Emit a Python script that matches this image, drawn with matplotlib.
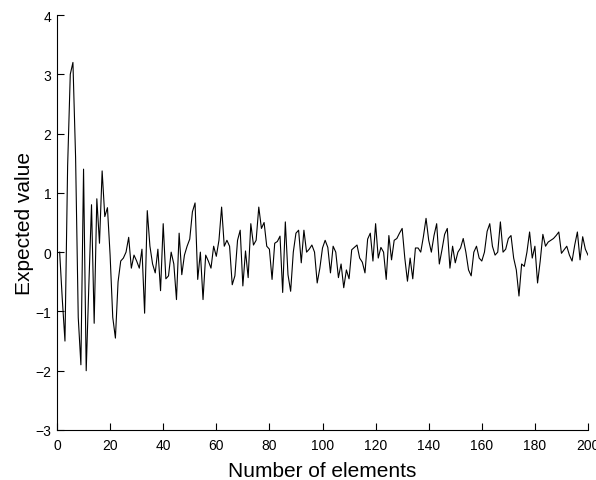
import matplotlib
matplotlib.use("Agg")
import matplotlib.pyplot as plt
import numpy as np

# values, one per element (x = 1..200)
values = [
    0.0, -0.8, -1.5, 1.45, 3.0, 3.2, 1.6, -1.1, -1.9, 1.4,
    -2.0, -0.55, 0.8, -1.2, 0.9, 0.15, 1.37, 0.6, 0.75, -0.05,
    -1.1, -1.45, -0.5, -0.15, -0.1, 0.0, 0.25, -0.27, -0.05, -0.15,
    -0.27, 0.05, -1.03, 0.7, 0.1, -0.2, -0.35, 0.05, -0.65, 0.48,
    -0.45, -0.4, 0.0, -0.2, -0.8, 0.32, -0.38, -0.05, 0.1, 0.22,
    0.68, 0.83, -0.46, 0.0, -0.8, -0.05, -0.15, -0.27, 0.1, -0.07,
    0.2, 0.76, 0.1, 0.2, 0.1, -0.55, -0.4, 0.2, 0.37, -0.57,
    0.02, -0.43, 0.48, 0.12, 0.2, 0.76, 0.4, 0.5, 0.1, 0.05,
    -0.46, 0.15, 0.18, 0.27, -0.68, 0.51, -0.38, -0.66, 0.0, 0.32,
    0.37, -0.18, 0.37, 0.0, 0.05, 0.12, 0.0, -0.52, -0.27, 0.07,
    0.2, 0.08, -0.35, 0.1, 0.0, -0.43, -0.2, -0.6, -0.3, -0.45,
    0.04, 0.08, 0.12, -0.1, -0.17, -0.35, 0.22, 0.32, -0.15, 0.48,
    -0.1, 0.08, 0.0, -0.46, 0.28, -0.13, 0.2, 0.23, 0.32, 0.4,
    -0.1, -0.49, -0.1, -0.45, 0.07, 0.07, 0.0, 0.26, 0.57, 0.2,
    0.0, 0.28, 0.48, -0.2, 0.04, 0.3, 0.4, -0.27, 0.1, -0.18,
    0.0, 0.07, 0.23, 0.0, -0.3, -0.4, 0.0, 0.1, -0.1, -0.15,
    0.0, 0.35, 0.48, 0.1, -0.05, 0.0, 0.51, 0.0, 0.05, 0.23,
    0.28, -0.1, -0.3, -0.74, -0.2, -0.24, 0.0, 0.34, -0.1, 0.1,
    -0.52, -0.15, 0.3, 0.1, 0.17, 0.2, 0.23, 0.28, 0.34, -0.02,
    0.04, 0.1, -0.05, -0.15, 0.12, 0.34, -0.13, 0.26, 0.05, -0.05,
]
elements = np.arange(1, len(values) + 1)
xticks = list(range(0, 201, 20))
yticks = list(range(-3, 5))

plt.rcParams['font.family'] = ['Liberation Sans', 'DejaVu Sans']

fig = plt.figure(figsize=(5.96, 4.81), dpi=100)
ax = fig.add_axes([57 / 596, 50 / 481, 531 / 596, 415 / 481])

ax.plot(elements, values, color='black', linewidth=0.8)

ax.set_xlim(0, 200)
ax.set_ylim(-3, 4)
ax.set_xticks(xticks)
ax.set_yticks(yticks)
ax.tick_params(direction='in', length=5, width=0.8, labelsize=10)
ax.tick_params(axis='x', pad=6)
ax.tick_params(axis='y', pad=4)

ax.spines['top'].set_visible(False)
ax.spines['right'].set_visible(False)
ax.spines['left'].set_linewidth(0.8)
ax.spines['bottom'].set_linewidth(0.8)

ax.set_xlabel('Number of elements', fontsize=15, labelpad=6)
ax.set_ylabel('Expected value', fontsize=15, labelpad=1)

fig.savefig('out.png', dpi=100)
